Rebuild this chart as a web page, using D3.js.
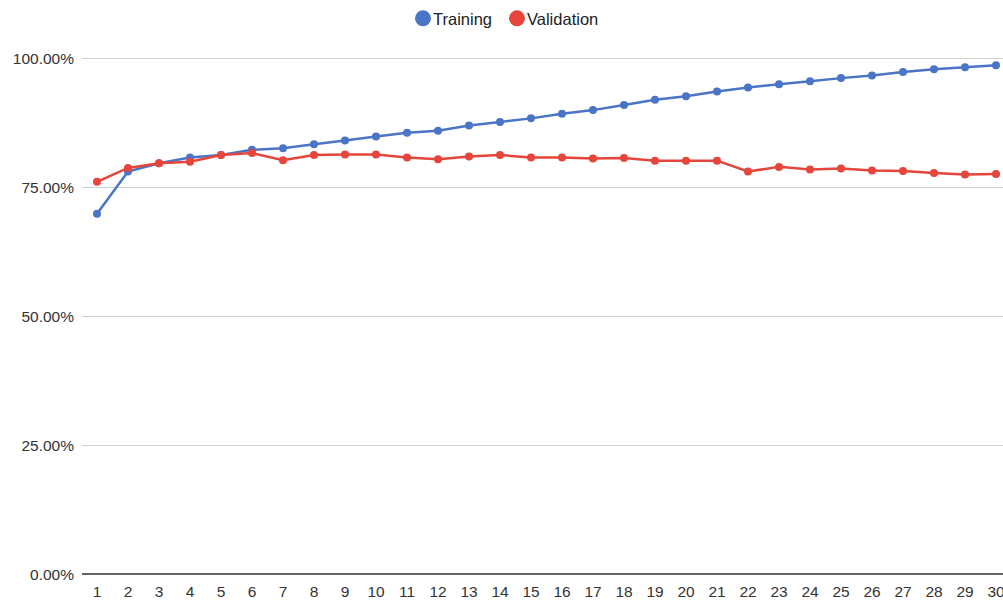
<!DOCTYPE html>
<html><head><meta charset="utf-8">
<script src="https://cdn.jsdelivr.net/npm/d3@7"></script>
<style>body{margin:0;background:#fff;}svg{display:block;font-family:"Liberation Sans",Arial,sans-serif;}</style>
</head><body>
<svg id="c" width="1003" height="601"></svg>
<script>
const epochs = d3.range(1, 31);
const training = [69.8,78.0,79.6,80.7,81.2,82.2,82.5,83.3,84.0,84.8,85.5,85.9,86.9,87.6,88.3,89.2,89.9,90.9,91.9,92.6,93.5,94.3,94.9,95.5,96.1,96.6,97.3,97.8,98.2,98.6];
const validation = [76.0,78.7,79.6,79.9,81.2,81.6,80.2,81.2,81.3,81.3,80.7,80.4,80.9,81.2,80.7,80.7,80.5,80.6,80.1,80.1,80.1,78.0,78.9,78.4,78.6,78.2,78.1,77.7,77.4,77.5];
const yTicks = [0,25,50,75,100];
const seriesNames = ["Training","Validation"];
const colors = ["#4a74c6","#e5453a"];

const svg = d3.select("#c");
const mLeft = 81.5, mRight = 1011.5, mTop = 58, mBottom = 574;
const x = d3.scaleBand().domain(epochs).range([mLeft,mRight]);
const y = d3.scaleLinear().domain([0,100]).range([mBottom,mTop]);

// gridlines
svg.append("g").selectAll("line").data(yTicks).join("line")
  .attr("x1",mLeft).attr("x2",mRight)
  .attr("y1",d=>y(d)).attr("y2",d=>y(d))
  .attr("stroke",d=>d===0?"#666":"#d0d0d0").attr("stroke-width",d=>d===0?1.5:1)
  .attr("shape-rendering","crispEdges");

// y labels
svg.append("g").selectAll("text").data(yTicks).join("text")
  .attr("x",74).attr("y",d=>y(d)+5.8)
  .attr("text-anchor","end").attr("font-size",15.5).attr("fill","#333")
  .text(d=>d3.format(".2f")(d)+"%");

// x labels
svg.append("g").selectAll("text").data(epochs).join("text")
  .attr("x",d=>x(d)+x.bandwidth()/2).attr("y",597)
  .attr("text-anchor","middle").attr("font-size",15.5).attr("fill","#333")
  .text(d=>d);

const line = d3.line().x((d,i)=>x(epochs[i])+x.bandwidth()/2).y(d=>y(d));
[training, validation].forEach((data,k)=>{
  svg.append("path").datum(data).attr("d",line)
    .attr("fill","none").attr("stroke",colors[k]).attr("stroke-width",2.5);
  svg.append("g").selectAll("circle").data(data).join("circle")
    .attr("cx",(d,i)=>x(epochs[i])+x.bandwidth()/2).attr("cy",d=>y(d))
    .attr("r",4).attr("fill",colors[k]);
});

// legend
const leg = svg.append("g");
const legX = [423, 517];
seriesNames.forEach((n,k)=>{
  leg.append("circle").attr("cx",legX[k]).attr("cy",18.3).attr("r",8).attr("fill",colors[k]);
  leg.append("text").attr("x",legX[k]+10).attr("y",24.5).attr("font-size",16.5).attr("fill","#222").text(n);
});
</script>
</body></html>
